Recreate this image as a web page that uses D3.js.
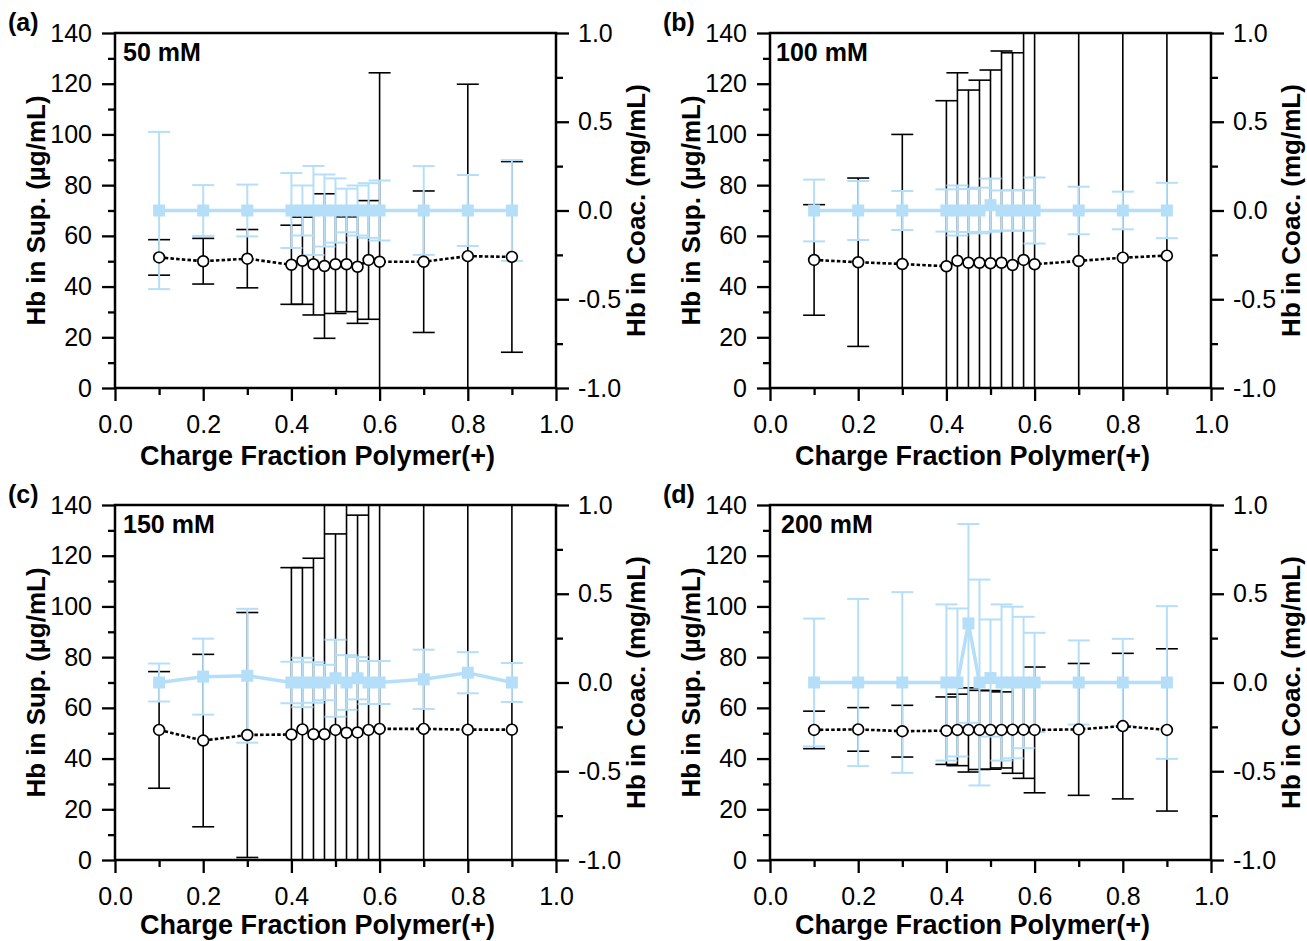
<!DOCTYPE html>
<html>
<head>
<meta charset="utf-8">
<script src="https://cdn.jsdelivr.net/npm/d3@7"></script>
<style>
  html, body { margin: 0; padding: 0; background: #fff; }
  svg { display: block; }
  text { font-family: "Liberation Sans", Arial, Helvetica, sans-serif; fill: #000; }
</style>
</head>
<body>
<svg id="chart" width="1307" height="941"></svg>
<script>
// ---------------- DATA ----------------
const chargeFraction = [0.1, 0.2, 0.3, 0.4, 0.425, 0.45, 0.475, 0.5, 0.525, 0.55, 0.575, 0.6, 0.7, 0.8, 0.9];

const panelLetters = ["(a)", "(b)", "(c)", "(d)"];
const saltLabels = ["50 mM", "100 mM", "150 mM", "200 mM"];

const xTicksMajor = [0, 0.2, 0.4, 0.6, 0.8, 1.0];
const xTicksMinor = [0.1, 0.3, 0.5, 0.7, 0.9];
const xTickLabels = ["0.0", "0.2", "0.4", "0.6", "0.8", "1.0"];
const leftTicksMajor = [0, 20, 40, 60, 80, 100, 120, 140];
const leftTicksMinor = [10, 30, 50, 70, 90, 110, 130];
const rightTicksMajor = [-1, -0.5, 0, 0.5, 1];
const rightTicksMinor = [-0.75, -0.25, 0.25, 0.75];
const rightTickLabels = ["-1.0", "-0.5", "0.0", "0.5", "1.0"];

const xTitle = "Charge Fraction Polymer(+)";
const leftTitle = "Hb in Sup. (\u00b5g/mL)";
const rightTitle = "Hb in Coac. (mg/mL)";

// Hb in supernatant (µg/mL), left axis — black open circles
const supA    = [51.5, 50.0, 51.0, 48.6, 50.2, 48.8, 48.1, 48.8, 48.8, 47.8, 50.5, 49.8, 49.8, 52.0, 51.7];
const supErrA = [7.0, 9.0, 11.5, 15.6, 17.2, 20.0, 28.5, 19.4, 18.7, 22.3, 23.4, 74.5, 27.9, 67.8, 37.6];
const supB    = [50.5, 49.6, 48.9, 48.0, 50.2, 49.4, 49.4, 49.2, 49.4, 48.5, 50.5, 48.8, 50.1, 51.4, 52.2];
const supErrB = [21.8, 33.2, 51.1, 65.3, 74.1, 68.1, 72.0, 76.2, 83.5, 83.7, 95.0, 102.0, 110.0, 105.0, 98.0];
const supC    = [51.3, 47.1, 49.3, 49.5, 51.5, 49.6, 49.6, 51.3, 50.2, 50.3, 51.3, 51.7, 51.7, 51.4, 51.4];
const supErrC = [23.0, 34.0, 48.3, 65.8, 63.8, 69.4, 95.0, 77.3, 96.0, 85.7, 100.0, 104.0, 110.0, 106.0, 100.0];
const supD    = [51.3, 51.5, 50.8, 51.0, 51.3, 51.3, 51.3, 51.3, 51.3, 51.4, 51.4, 51.3, 51.5, 52.8, 51.3];
const supErrD = [7.4, 8.6, 10.2, 13.3, 14.1, 16.6, 15.6, 15.5, 15.0, 17.2, 19.2, 24.8, 26.0, 28.7, 32.0];

// Hb in coacervate (mg/mL), right axis — light blue squares
const coacA    = [0, 0, 0, 0, 0, 0, 0, 0, 0, 0, 0, 0, 0, 0, 0];
const coacErrA = [0.443, 0.143, 0.146, 0.211, 0.141, 0.251, 0.203, 0.181, 0.123, 0.141, 0.154, 0.169, 0.25, 0.2, 0.284];
const coacB    = [0, 0, 0, 0, 0, 0, 0, 0.03, 0, 0, 0, 0, 0, 0, 0];
const coacErrB = [0.174, 0.166, 0.11, 0.119, 0.141, 0.121, 0.129, 0.15, 0.113, 0.114, 0.114, 0.186, 0.134, 0.106, 0.156];
const coacC    = [0, 0.033, 0.038, 0, 0, 0, 0, 0.024, 0, 0.024, 0, 0, 0.018, 0.055, 0];
const coacErrC = [0.107, 0.214, 0.377, 0.117, 0.139, 0.114, 0.1, 0.217, 0.154, 0.119, 0.121, 0.121, 0.167, 0.116, 0.11];
const coacD    = [0, 0, 0, 0, 0, 0.333, 0, 0.025, 0, 0, 0, 0, 0, 0, 0];
const coacErrD = [0.36, 0.471, 0.509, 0.44, 0.417, 0.56, 0.58, 0.33, 0.44, 0.427, 0.37, 0.28, 0.237, 0.246, 0.43];

// ---------------- LAYOUT ----------------
const panels = [
  { left: 115, top: 33,  sup: supA, supErr: supErrA, coac: coacA, coacErr: coacErrA, labelDx: 8,  titleDy: 77 },
  { left: 770, top: 33,  sup: supB, supErr: supErrB, coac: coacB, coacErr: coacErrB, labelDx: 6,  titleDy: 77 },
  { left: 115, top: 505, sup: supC, supErr: supErrC, coac: coacC, coacErr: coacErrC, labelDx: 8,  titleDy: 74 },
  { left: 770, top: 505, sup: supD, supErr: supErrD, coac: coacD, coacErr: coacErrD, labelDx: 11, titleDy: 74 }
];
const PW = 441, PH = 355;
const BLUE = "#b5dff8";
const TICK_FS = 25, TITLE_FS = 26;

const svg = d3.select("#chart");
svg.append("rect").attr("width", 1307).attr("height", 941).attr("fill", "#fff");

panels.forEach((p, i) => {
  const x = d3.scaleLinear().domain([0, 1]).range([p.left, p.left + PW]);
  const yL = d3.scaleLinear().domain([0, 140]).range([p.top + PH, p.top]);
  const yR = d3.scaleLinear().domain([-1, 1]).range([p.top + PH, p.top]);
  const g = svg.append("g");

  const clipId = "clip" + i;
  svg.append("clipPath").attr("id", clipId)
    .append("rect").attr("x", p.left).attr("y", p.top).attr("width", PW).attr("height", PH);

  const styleAxis = (sel) => {
    sel.select(".domain").remove();
    sel.selectAll(".tick line").attr("stroke", "#000").attr("stroke-width", 2.3);
    sel.selectAll("text").attr("font-size", TICK_FS)
      .attr("font-family", '"Liberation Sans", Arial, sans-serif').attr("fill", "#000");
  };

  g.append("g").attr("transform", `translate(0,${p.top + PH})`)
    .call(d3.axisBottom(x).tickValues(xTicksMajor).tickSize(13).tickPadding(14)
      .tickFormat((d, j) => xTickLabels[j]))
    .call(styleAxis);
  g.append("g").attr("transform", `translate(0,${p.top + PH})`)
    .call(d3.axisBottom(x).tickValues(xTicksMinor).tickSize(7).tickFormat(""))
    .call(styleAxis);
  g.append("g").attr("transform", `translate(${p.left},0)`)
    .call(d3.axisLeft(yL).tickValues(leftTicksMajor).tickSize(13).tickPadding(10)
      .tickFormat(d3.format("d")))
    .call(styleAxis);
  g.append("g").attr("transform", `translate(${p.left},0)`)
    .call(d3.axisLeft(yL).tickValues(leftTicksMinor).tickSize(7).tickFormat(""))
    .call(styleAxis);
  g.append("g").attr("transform", `translate(${p.left + PW},0)`)
    .call(d3.axisRight(yR).tickValues(rightTicksMajor).tickSize(13).tickPadding(9)
      .tickFormat((d, j) => rightTickLabels[j]))
    .call(styleAxis);
  g.append("g").attr("transform", `translate(${p.left + PW},0)`)
    .call(d3.axisRight(yR).tickValues(rightTicksMinor).tickSize(7).tickFormat(""))
    .call(styleAxis);

  const data = chargeFraction.map((c, j) => ({
    x: c, s: p.sup[j], se: p.supErr[j], c: p.coac[j], ce: p.coacErr[j]
  }));

  const plot = g.append("g").attr("clip-path", `url(#${clipId})`);
  const CAP = 11;

  const eb = plot.append("g").attr("stroke", "#000").attr("stroke-width", 1.6).attr("fill", "none");
  data.forEach(d => {
    const cx = x(d.x), y1 = yL(d.s + d.se), y0 = yL(d.s - d.se);
    eb.append("line").attr("x1", cx).attr("x2", cx).attr("y1", y1).attr("y2", y0);
    eb.append("line").attr("x1", cx - CAP).attr("x2", cx + CAP).attr("y1", y1).attr("y2", y1);
    eb.append("line").attr("x1", cx - CAP).attr("x2", cx + CAP).attr("y1", y0).attr("y2", y0);
  });
  const bb = plot.append("g").attr("stroke", BLUE).attr("stroke-width", 2).attr("fill", "none");
  data.forEach(d => {
    const cx = x(d.x), y1 = yR(d.c + d.ce), y0 = yR(d.c - d.ce);
    bb.append("line").attr("x1", cx).attr("x2", cx).attr("y1", y1).attr("y2", y0);
    bb.append("line").attr("x1", cx - CAP).attr("x2", cx + CAP).attr("y1", y1).attr("y2", y1);
    bb.append("line").attr("x1", cx - CAP).attr("x2", cx + CAP).attr("y1", y0).attr("y2", y0);
  });

  plot.append("path").datum(data)
    .attr("d", d3.line().x(d => x(d.x)).y(d => yL(d.s)))
    .attr("fill", "none").attr("stroke", "#000").attr("stroke-width", 2.6)
    .attr("stroke-dasharray", "3.5,2.2");
  plot.append("path").datum(data)
    .attr("d", d3.line().x(d => x(d.x)).y(d => yR(d.c)))
    .attr("fill", "none").attr("stroke", BLUE).attr("stroke-width", 3.5);

  plot.append("g").selectAll("circle").data(data).join("circle")
    .attr("cx", d => x(d.x)).attr("cy", d => yL(d.s)).attr("r", 5.4)
    .attr("fill", "#fff").attr("stroke", "#000").attr("stroke-width", 1.7);
  const SQ = 12;
  plot.append("g").selectAll("rect").data(data).join("rect")
    .attr("x", d => x(d.x) - SQ / 2).attr("y", d => yR(d.c) - SQ / 2)
    .attr("width", SQ).attr("height", SQ).attr("fill", BLUE);

  g.append("rect").attr("x", p.left).attr("y", p.top).attr("width", PW).attr("height", PH)
    .attr("fill", "none").attr("stroke", "#000").attr("stroke-width", 2.5);

  g.append("text").attr("x", p.left + PW / 2 - 18).attr("y", p.top + PH + p.titleDy)
    .attr("text-anchor", "middle").attr("font-size", 27).attr("font-weight", "bold")
    .text(xTitle);
  g.append("text")
    .attr("transform", `translate(${p.left - 70},${p.top + PH / 2}) rotate(-90)`)
    .attr("text-anchor", "middle").attr("font-size", TITLE_FS).attr("font-weight", "bold")
    .text(leftTitle);
  g.append("text")
    .attr("transform", `translate(${p.left + PW + 89},${p.top + PH / 2}) rotate(-90)`)
    .attr("text-anchor", "middle").attr("font-size", TITLE_FS).attr("font-weight", "bold")
    .text(rightTitle);

  g.append("text").attr("x", p.left - 107).attr("y", p.top - 2)
    .attr("font-size", 25).attr("font-weight", "bold").text(panelLetters[i]);
  g.append("text").attr("x", p.left + p.labelDx).attr("y", p.top + 27.5)
    .attr("font-size", 25).attr("font-weight", "bold").text(saltLabels[i]);
});
</script>
</body>
</html>
